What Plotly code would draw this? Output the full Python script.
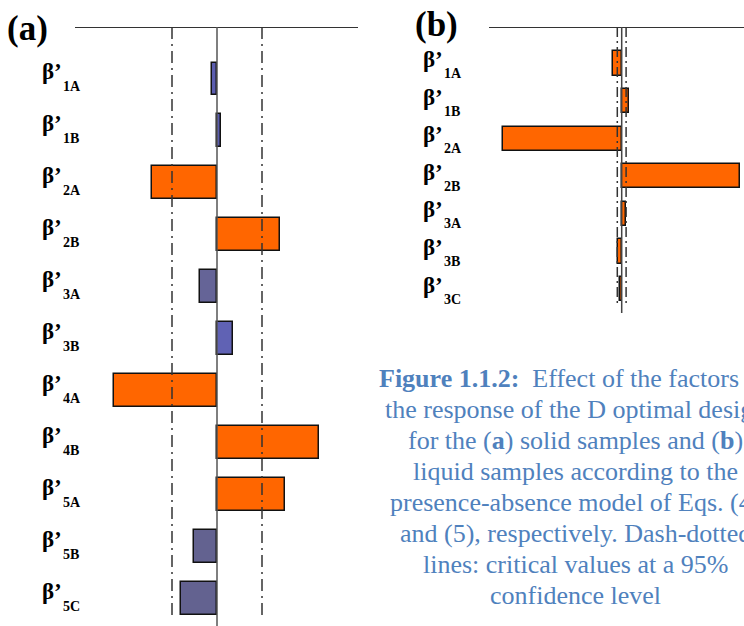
import plotly.graph_objects as go

# ---------------- data ----------------
subs_a = ["1A", "1B", "2A", "2B", "3A", "3B", "4A", "4B", "5A", "5B", "5C"]
values_a = [-0.5, 0.4, -6.5, 6.3, -1.7, 1.6, -10.3, 10.2, 6.8, -2.3, -3.6]
colors_a = ["#5b5daf", "#5b5daf", "#ff6600", "#ff6600", "#656497", "#6062b4",
            "#ff6600", "#ff6600", "#ff6600", "#636290", "#636290"]
crit_a = 4.5

subs_b = ["1A", "1B", "2A", "2B", "3A", "3B", "3C"]
values_b = [-0.9, 0.75, -11.9, 11.8, 0.45, -0.4, -0.15]
crit_b = 0.44

caption_lines = [
    "<b>Figure 1.1.2:</b>\u00a0 Effect of the factors on",
    "the response of the D optimal design",
    "for the (<b>a</b>) solid samples and (<b>b</b>)",
    "liquid samples according to the",
    "presence-absence model of Eqs. (4)",
    "and (5), respectively. Dash-dotted",
    "lines: critical values at a 95%",
    "confidence level",
]

W, H = 744, 626
SERIF = "Liberation Serif, Times New Roman, serif"

fig = go.Figure()

# panel (a)
fig.add_trace(go.Bar(
    x=values_a, y=list(range(len(values_a))), orientation="h", width=0.635,
    marker=dict(color=colors_a, line=dict(color="#111111", width=1.5)),
    xaxis="x", yaxis="y", hoverinfo="skip"))

# panel (b)
fig.add_trace(go.Bar(
    x=values_b, y=list(range(len(values_b))), orientation="h", width=0.64,
    marker=dict(color="#ff6600", line=dict(color="#111111", width=1.5)),
    xaxis="x2", yaxis="y2", hoverinfo="skip"))

# axis geometry (pixel-based)
xa_range = [(75 - 217) / 10, (358 - 217) / 10]
ya_top = (27 - 79) / 51.95
ya_bot = (626 - 79) / 51.95
xb_range = [(489 - 621.7) / 10, (744 - 621.7) / 10]
yb_top = (27 - 63.5) / 37.6
yb_bot = (313 - 63.5) / 37.6

fig.update_layout(
    width=W, height=H, margin=dict(l=0, r=0, t=0, b=0),
    paper_bgcolor="white", plot_bgcolor="white", showlegend=False,
    bargap=0,
    xaxis=dict(domain=[75 / W, 358 / W], range=xa_range, visible=False, fixedrange=True),
    yaxis=dict(domain=[0, (H - 27) / H], range=[ya_bot, ya_top], visible=False, fixedrange=True),
    xaxis2=dict(domain=[489 / W, 1.0], range=xb_range, visible=False, fixedrange=True),
    yaxis2=dict(domain=[(H - 313) / H, (H - 27) / H], range=[yb_bot, yb_top], visible=False,
                fixedrange=True),
)

shapes = []
# panel (a) lines
shapes.append(dict(type="line", xref="x", yref="y", x0=xa_range[0], x1=xa_range[1],
                   y0=ya_top, y1=ya_top, line=dict(color="#333333", width=2)))
shapes.append(dict(type="line", xref="x", yref="y", x0=0, x1=0, y0=ya_top, y1=ya_bot,
                   line=dict(color="#555555", width=1.5)))
for c in (-crit_a, crit_a):
    shapes.append(dict(type="line", xref="x", yref="y", x0=c, x1=c, y0=ya_top,
                       y1=(616 - 79) / 51.95,
                       line=dict(color="#333333", width=1.5, dash="12px,5px,2px,5px")))
# panel (b) lines
shapes.append(dict(type="line", xref="x2", yref="y2", x0=xb_range[0], x1=xb_range[1],
                   y0=yb_top, y1=yb_top, line=dict(color="#333333", width=2)))
shapes.append(dict(type="line", xref="x2", yref="y2", x0=0, x1=0, y0=yb_top, y1=yb_bot,
                   line=dict(color="#444444", width=1.5)))
for c in (-crit_b, crit_b):
    shapes.append(dict(type="line", xref="x2", yref="y2", x0=c, x1=c, y0=yb_top,
                       y1=(306 - 63.5) / 37.6,
                       line=dict(color="#333333", width=1.5, dash="10px,4px,2px,4px")))
fig.update_layout(shapes=shapes)

ann = []
# panel letters
ann.append(dict(text="<b>(a)</b>", x=5 / W, y=(H - 29) / H, xref="paper", yref="paper",
                xanchor="left", yanchor="middle", showarrow=False,
                font=dict(family=SERIF, size=35, color="black")))
ann.append(dict(text="<b>(b)</b>", x=413 / W, y=(H - 24) / H, xref="paper", yref="paper",
                xanchor="left", yanchor="middle", showarrow=False,
                font=dict(family=SERIF, size=35, color="black")))

# row labels
for i, s in enumerate(subs_a):
    ann.append(dict(text="<b>β’</b>", x=40 / W, xref="paper", y=i, yref="y",
                    xanchor="left", yanchor="middle", yshift=7, showarrow=False,
                    font=dict(family=SERIF, size=23, color="black")))
    ann.append(dict(text="<b>" + s + "</b>", x=61 / W, xref="paper", y=i, yref="y",
                    xanchor="left", yanchor="middle", yshift=-8, showarrow=False,
                    font=dict(family=SERIF, size=14, color="black")))
for i, s in enumerate(subs_b):
    ann.append(dict(text="<b>β’</b>", x=421 / W, xref="paper", y=i, yref="y2",
                    xanchor="left", yanchor="middle", yshift=4, showarrow=False,
                    font=dict(family=SERIF, size=23, color="black")))
    ann.append(dict(text="<b>" + s + "</b>", x=442 / W, xref="paper", y=i, yref="y2",
                    xanchor="left", yanchor="middle", yshift=-10, showarrow=False,
                    font=dict(family=SERIF, size=14, color="black")))

# caption
cap_y = [378, 409, 440, 471, 502, 533, 564, 595]
for txt, yp in zip(caption_lines, cap_y):
    ann.append(dict(text=txt, x=575 / W, y=(H - yp) / H, xref="paper", yref="paper",
                    xanchor="center", yanchor="middle", showarrow=False,
                    font=dict(family=SERIF, size=26, color="#4f81bd")))

fig.update_layout(annotations=ann)
fig.write_html("out.html")
